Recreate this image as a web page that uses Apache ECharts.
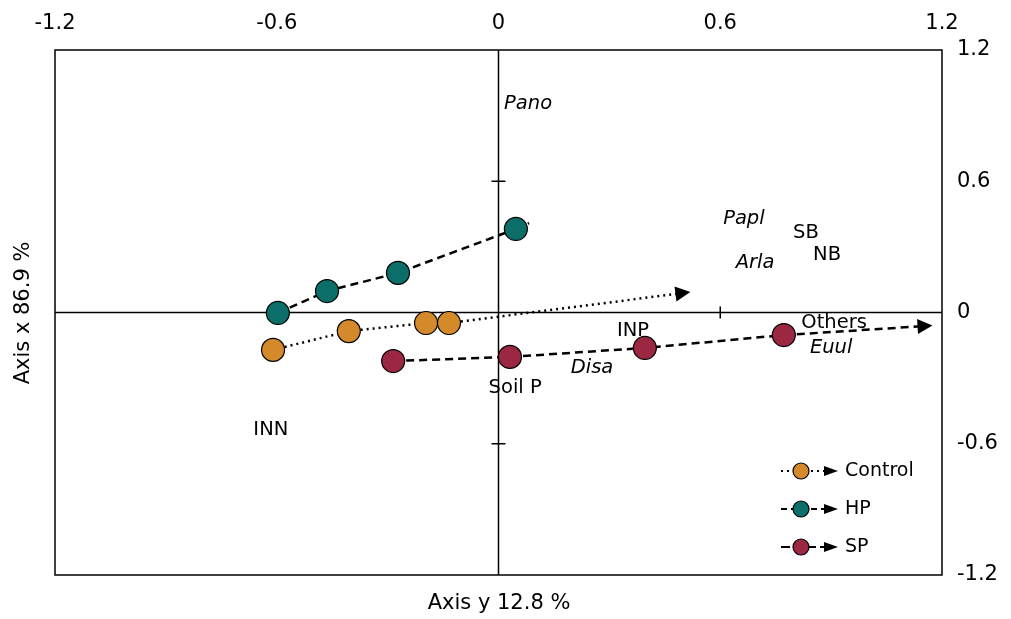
<!DOCTYPE html>
<html>
<head>
<meta charset="utf-8">
<script src="https://cdn.jsdelivr.net/npm/echarts@6/dist/echarts.min.js"></script>
<style>
  html, body { margin: 0; padding: 0; background: #fff; }
  #chart { width: 1011px; height: 619px; }
</style>
</head>
<body>
<div id="chart"></div>
<script>
// 数据
const axisTicks = [-1.2, -0.6, 0, 0.6, 1.2]
const innerTicks = [-0.6, 0.6]

const controlPts = [[-0.610, -0.171], [-0.405, -0.085], [-0.196, -0.048], [-0.134, -0.048]]
const controlEnd = [0.499, 0.089]
const hpPts = [[-0.597, -0.002], [-0.464, 0.098], [-0.272, 0.181], [0.047, 0.382]]
const hpEnd = [0.083, 0.409]
const spPts = [[-0.285, -0.222], [0.031, -0.203], [0.396, -0.162], [0.772, -0.103]]
const spEnd = [1.154, -0.062]

const labelNames = ['Pano', 'Papl', 'SB', 'Arla', 'NB', 'INP', 'Others', 'Euul', 'Disa', 'Soil P', 'INN']
const labelX = [0.080, 0.664, 0.832, 0.694, 0.889, 0.364, 0.908, 0.900, 0.253, 0.045, -0.616]
const labelY = [0.953, 0.428, 0.363, 0.226, 0.263, -0.084, -0.048, -0.162, -0.254, -0.345, -0.537]
const labelItalic = [true, true, false, true, false, false, false, true, true, false, false]

const FONT = 'DejaVu Sans'
const colors = { Control: '#d4892a', HP: '#0b6e69', SP: '#9b2743' }
const dashed = [8, 5]
const dotted = [2, 4]

function groupSeries(name, pts, end, lineType, lineWidth) {
  return [
    {
      name: name,
      type: 'line',
      data: pts,
      z: 4,
      symbol: 'circle',
      symbolSize: 23,
      itemStyle: { color: colors[name], borderColor: '#000', borderWidth: 1.2 },
      lineStyle: { color: '#000', width: lineWidth, type: lineType },
      animation: false,
      silent: true,
    },
    {
      type: 'lines',
      coordinateSystem: 'cartesian2d',
      z: 2,
      symbol: name === 'HP' ? ['none', 'none'] : ['none', 'triangle'],
      symbolSize: [10, 15],
      data: [{ coords: [pts[pts.length - 1], end] }],
      lineStyle: { color: '#000', width: lineWidth, type: lineType, opacity: 1, curveness: 0 },
      animation: false,
      silent: true,
    },
  ]
}

const chart = echarts.init(document.getElementById('chart'))

// 图例（手工绘制）
const legendRows = [
  { name: 'Control', y: 471, type: dotted, width: 2 },
  { name: 'HP', y: 509, type: [6, 4], width: 2 },
  { name: 'SP', y: 547, type: [9, 4], width: 2 },
]
const legendGraphics = []
legendRows.forEach((r) => {
  legendGraphics.push({
    type: 'line', shape: { x1: 781, y1: r.y, x2: 826, y2: r.y },
    style: { stroke: '#000', lineWidth: r.width, lineDash: r.type },
  })
  legendGraphics.push({
    type: 'circle', shape: { cx: 801, cy: r.y, r: 8 },
    style: { fill: colors[r.name], stroke: '#000', lineWidth: 1.2 },
  })
  legendGraphics.push({
    type: 'polygon', shape: { points: [[824, r.y - 5], [838, r.y], [824, r.y + 5]] },
    style: { fill: '#000' },
  })
  legendGraphics.push({
    type: 'text', x: 845, y: r.y,
    style: { text: r.name, font: '19px "' + FONT + '"', fill: '#000', verticalAlign: 'middle' },
  })
})

chart.setOption({
  textStyle: { fontFamily: FONT },
  grid: { left: 55, right: 69, top: 50, bottom: 44, show: true, borderColor: '#000', borderWidth: 1.5 },
  xAxis: {
    type: 'value', position: 'top', min: -1.2, max: 1.2, interval: 0.6,
    axisLine: { show: false }, axisTick: { show: false }, splitLine: { show: false },
    axisLabel: { color: '#000', fontSize: 21, margin: 16, fontFamily: FONT,
      formatter: (v) => String(Math.round(v * 10) / 10) },
  },
  yAxis: {
    type: 'value', position: 'right', min: -1.2, max: 1.2, interval: 0.6,
    axisLine: { show: false }, axisTick: { show: false }, splitLine: { show: false },
    axisLabel: { color: '#000', fontSize: 21, margin: 15, fontFamily: FONT,
      formatter: (v) => String(Math.round(v * 10) / 10) },
  },
  graphic: [
    {
      type: 'text', x: 499, y: 604,
      style: { text: 'Axis y 12.8 %', font: '21px "' + FONT + '"', fill: '#000', align: 'center', verticalAlign: 'middle' },
    },
    {
      type: 'text', x: 24, y: 313, rotation: Math.PI / 2,
      style: { text: 'Axis x 86.9 %', font: '21px "' + FONT + '"', fill: '#000', align: 'center', verticalAlign: 'middle' },
    },
  ].concat(legendGraphics),
  series: [
    {
      // 中心十字轴及刻度
      type: 'custom',
      z: 1,
      silent: true,
      animation: false,
      data: [0],
      renderItem: function (params, api) {
        const lo = axisTicks[0], hi = axisTicks[axisTicks.length - 1]
        const a = api.coord([lo, 0]), b = api.coord([hi, 0])
        const c = api.coord([0, lo]), d = api.coord([0, hi])
        const st = { stroke: '#000', lineWidth: 1.5 }
        const children = [
          { type: 'line', shape: { x1: a[0], y1: a[1], x2: b[0], y2: b[1] }, style: st },
          { type: 'line', shape: { x1: c[0], y1: c[1], x2: d[0], y2: d[1] }, style: st },
        ]
        innerTicks.forEach((t) => {
          const px = api.coord([t, 0])
          children.push({ type: 'line', shape: { x1: px[0], y1: px[1] - 6, x2: px[0], y2: px[1] + 6 }, style: st })
          const py = api.coord([0, t])
          children.push({ type: 'line', shape: { x1: py[0] - 7, y1: py[1], x2: py[0] + 7, y2: py[1] }, style: st })
        })
        return { type: 'group', children: children }
      },
    },
    {
      type: 'scatter',
      z: 3,
      silent: true,
      animation: false,
      symbolSize: 0,
      itemStyle: { opacity: 1 },
      data: labelNames.map((n, i) => ({
        name: n,
        value: [labelX[i], labelY[i]],
        label: { fontStyle: labelItalic[i] ? 'italic' : 'normal', color: '#000' },
      })),
      label: {
        show: true, position: 'inside', formatter: '{b}',
        color: '#000', fontSize: 19.5, fontFamily: FONT, textBorderWidth: 0,
      },
    },
  ]
    .concat(groupSeries('Control', controlPts, controlEnd, dotted, 2.5))
    .concat(groupSeries('HP', hpPts, hpEnd, dashed, 2.5))
    .concat(groupSeries('SP', spPts, spEnd, dashed, 2.5)),
})
</script>
</body>
</html>
